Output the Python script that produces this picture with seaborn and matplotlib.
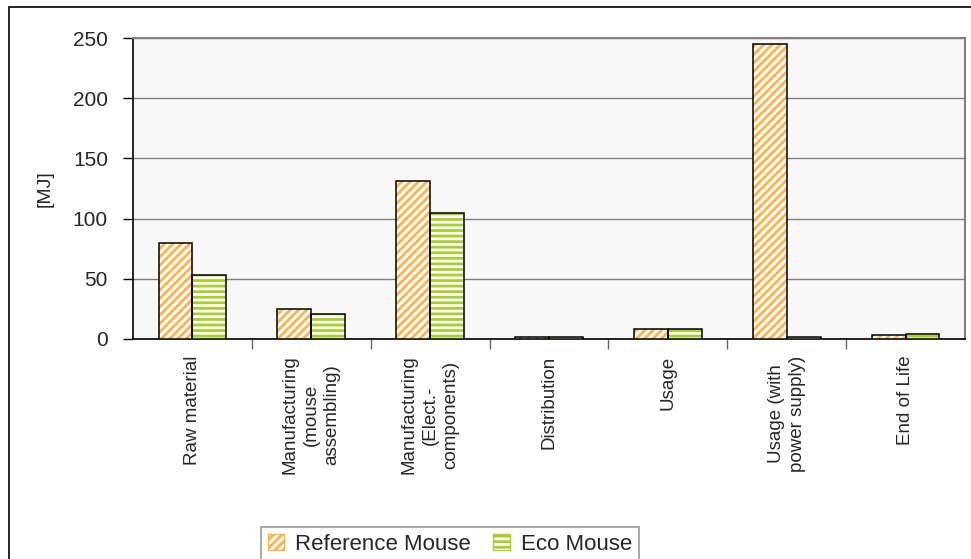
import matplotlib
matplotlib.use("Agg")
import matplotlib.pyplot as plt
from matplotlib.patches import Rectangle, Patch
import seaborn as sns
import pandas as pd

categories = [
    "Raw material",
    "Manufacturing\n(mouse\nassembling)",
    "Manufacturing\n(Elect.-\ncomponents)",
    "Distribution",
    "Usage",
    "Usage (with\npower supply)",
    "End of Life",
]
reference_mouse = [80, 25, 131, 2, 8, 245, 3]
eco_mouse = [53, 21, 105, 2, 8, 2, 4]
series = ["Reference Mouse", "Eco Mouse"]
y_ticks = [0, 50, 100, 150, 200, 250]

hatch_colors = {"Reference Mouse": "#FFB347", "Eco Mouse": "#A8D02A"}
hatches = {"Reference Mouse": "////", "Eco Mouse": "---"}

df = pd.DataFrame(
    {
        "category": categories * 2,
        "series": [series[0]] * len(categories) + [series[1]] * len(categories),
        "value": reference_mouse + eco_mouse,
    }
)

sns.set_style("white")
plt.rcParams["font.family"] = ["Liberation Sans", "DejaVu Sans"]
plt.rcParams["hatch.linewidth"] = 2.0

fig = plt.figure(figsize=(9.71, 5.59), dpi=100)
ax = fig.add_axes([133 / 971, 1 - 339 / 559, (965 - 133) / 971, (339 - 38) / 559])
ax.set_facecolor("#f8f8f8")

sns.barplot(
    data=df, x="category", y="value", hue="series", hue_order=series,
    width=0.57, gap=0, ax=ax, legend=False, zorder=3,
)

# restyle bars: coloured hatch on white, black outline drawn on top
for container, name in zip(ax.containers, series):
    for p in container:
        p.set_facecolor("white")
        p.set_edgecolor(hatch_colors[name])
        p.set_hatch(hatches[name])
        p.set_linewidth(0)
        ax.add_patch(Rectangle(p.get_xy(), p.get_width(), p.get_height(),
                               fill=False, edgecolor="black", lw=1.1, zorder=4))

ax.set_ylim(0, 250)
ax.set_yticks(y_ticks)
ax.tick_params(axis="y", direction="out", length=7, width=1, color="black",
               labelsize=15, pad=11, left=True)
ax.yaxis.grid(True, color="#808080", linewidth=1)
ax.set_axisbelow(True)
ax.set_ylabel("[MJ]", fontsize=14, labelpad=14)

ax.set_xlim(-0.5, len(categories) - 0.5)
ax.set_xticks([i + 0.5 for i in range(len(categories) - 1)])
ax.set_xticklabels([])
ax.set_xticks(range(len(categories)), minor=True)
ax.set_xticklabels(categories, minor=True, rotation=90, fontsize=13.5,
                   ha="center", va="top", multialignment="center",
                   linespacing=1.3)
ax.tick_params(axis="x", which="major", direction="out", length=7, width=1,
               color="#666666", bottom=True)
ax.tick_params(axis="x", which="minor", length=0, pad=12)
ax.set_xlabel("")

for side in ["left", "bottom"]:
    ax.spines[side].set_color("black")
    ax.spines[side].set_linewidth(1.2)
for side in ["top", "right"]:
    ax.spines[side].set_color("#808080")
    ax.spines[side].set_linewidth(1.5)

handles = [Patch(facecolor="white", edgecolor=hatch_colors[s], hatch=hatches[s]) for s in series]
leg = fig.legend(
    handles, series, loc="upper center", bbox_to_anchor=(450 / 971, 1 - 527 / 559),
    ncol=2, frameon=True, fancybox=False, fontsize=16, handlelength=0.75,
    handleheight=0.75, handletextpad=0.5, columnspacing=1.0, borderpad=0.3,
    borderaxespad=0,
)
leg.get_frame().set_edgecolor("#808080")
leg.get_frame().set_linewidth(1.2)

# outer figure border
fig.patches.append(Rectangle((9 / 971, -0.05), 1.0, 1 - 7 / 559 + 0.05,
                             transform=fig.transFigure, fill=False,
                             edgecolor="black", lw=1.2))

fig.savefig("out.png", dpi=100)
